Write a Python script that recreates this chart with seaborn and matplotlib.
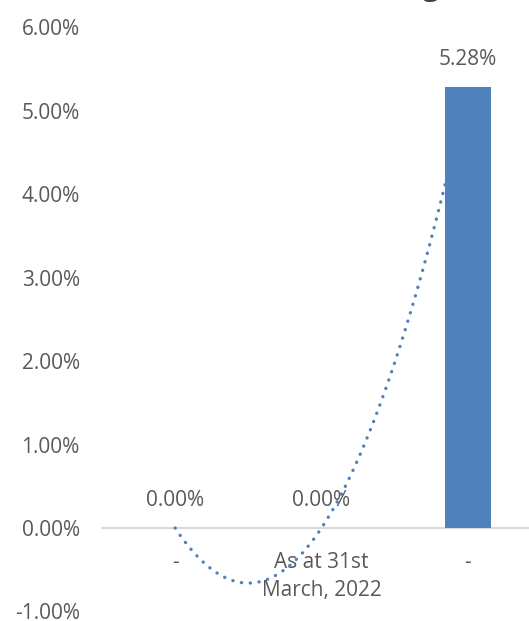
import numpy as np
import pandas as pd
import matplotlib
matplotlib.use("Agg")
import matplotlib.pyplot as plt
from matplotlib.ticker import PercentFormatter, MultipleLocator
import seaborn as sns

# Chart data
category_labels = ["-", "As at 31st\nMarch, 2022", "-"]
values = [0.0, 0.0, 0.0528]
value_labels = ["0.00%", "0.00%", "5.28%"]
title_text = "Percentage"

sns.set_theme(style="white")
plt.rcParams["font.family"] = ["Open Sans", "DejaVu Sans"]
plt.rcParams["axes.unicode_minus"] = False

TEXT = "#595959"
BAR = "#4f81bd"

keys = [f"c{i}" for i in range(len(values))]
df = pd.DataFrame({"key": keys, "value": values})

fig = plt.figure(figsize=(5.29, 6.21), dpi=100)
ax = fig.add_axes([0.1928, 0.0153, 0.8299, 0.9412])

# Second-order polynomial trendline through the series (drawn beneath the bars)
pos = np.arange(len(values))
coef = np.polyfit(pos, values, 2)
xs = np.linspace(pos[0], pos[-1], 300)
ax.plot(xs, np.polyval(coef, xs), color=BAR, lw=2.4,
        linestyle=(0, (0.05, 2.6)), dash_capstyle="round",
        solid_capstyle="round", zorder=1)

sns.barplot(data=df, x="key", y="value", order=keys, color=BAR,
            width=0.314, linewidth=0, saturation=1, ax=ax, zorder=2)

ax.set_ylim(-0.01, 0.06)
ax.set_xlim(-0.5, len(values) - 0.5)
ax.yaxis.set_major_locator(MultipleLocator(0.01))
ax.yaxis.set_major_formatter(PercentFormatter(1.0, decimals=2))
ax.set_xticks(pos)
ax.set_xticklabels(category_labels)
ax.set_xlabel("")
ax.set_ylabel("")

# Category axis crosses at zero
for side in ("top", "right", "left"):
    ax.spines[side].set_visible(False)
ax.spines["bottom"].set_position(("data", 0))
ax.spines["bottom"].set_color("#d9d9d9")
ax.spines["bottom"].set_linewidth(1.5)
ax.spines["bottom"].set_zorder(0)

ax.tick_params(axis="y", length=0, pad=16, labelsize=15, labelcolor=TEXT)
ax.tick_params(axis="x", length=0, pad=17, labelsize=15, labelcolor=TEXT)
for lbl in ax.get_xticklabels():
    lbl.set_linespacing(1.45)
    lbl.set_verticalalignment("top")

# Data labels above each bar
for p, v, t in zip(pos, values, value_labels):
    ax.annotate(t, (p, v), xytext=(0, 12), textcoords="offset points",
                ha="center", va="bottom", fontsize=15, color=TEXT, zorder=3)

# Chart title (sits above the plot area)
fig.text(0.862, 1.008, title_text, ha="right", va="baseline",
         fontsize=22, color="#404040")

fig.savefig("out.png", dpi=100)
